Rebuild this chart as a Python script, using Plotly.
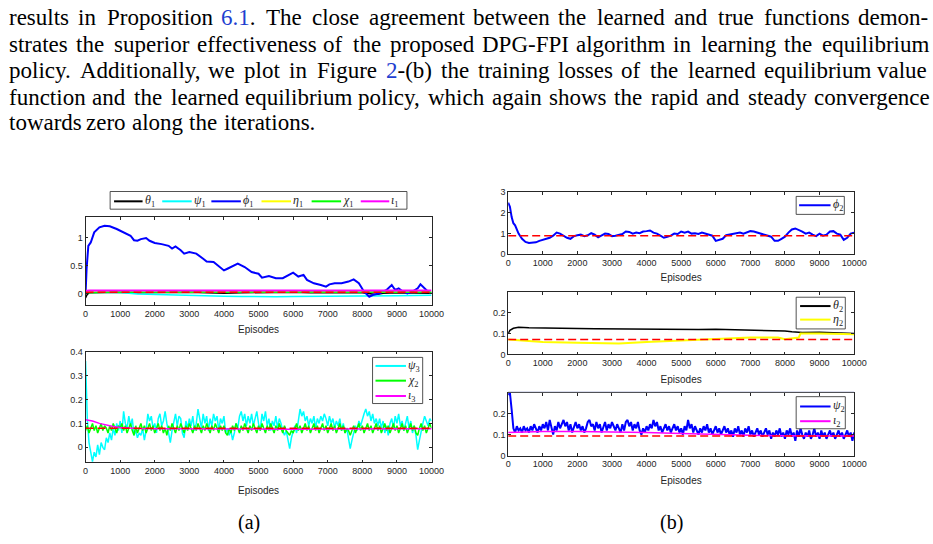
import numpy as np
import plotly.graph_objects as go

W_FIG, H_FIG = 933, 544

# ---------------- data ----------------
# (a) top panel
phi1_x = [0, 30, 80, 150, 250, 400, 550, 700, 900, 1000, 1100, 1200, 1300, 1400, 1500, 1600, 1750, 1850,
          2000, 2200, 2400, 2500, 2600, 2750, 2850, 3000, 3200, 3400, 3500, 3700, 3900, 4000, 4100, 4300,
          4400, 4600, 4800, 5000, 5100, 5300, 5500, 5700, 5900, 6000, 6150, 6300, 6400, 6600, 6800, 6950,
          7050, 7200, 7400, 7600, 7750, 7900, 8050, 8200, 8300, 8500, 8700, 8850, 8950, 9050, 9150, 9300,
          9450, 9600, 9680, 9800, 9900, 10000]
phi1_y = [0.0, 0.45, 0.86, 0.92, 1.10, 1.19, 1.22, 1.21, 1.16, 1.13, 1.10, 1.06, 1.04, 0.96, 0.95, 0.98, 1.00, 0.95,
          0.91, 0.89, 0.86, 0.81, 0.85, 0.78, 0.72, 0.75, 0.72, 0.63, 0.58, 0.57, 0.48, 0.42, 0.45, 0.52,
          0.54, 0.48, 0.39, 0.36, 0.29, 0.32, 0.28, 0.28, 0.35, 0.38, 0.31, 0.34, 0.25, 0.19, 0.16, 0.13,
          0.17, 0.19, 0.19, 0.22, 0.26, 0.19, 0.04, -0.05, -0.02, 0.01, 0.07, 0.16, 0.07, 0.10, 0.05, 0.01,
          0.04, 0.10, 0.17, 0.10, 0.04, 0.01]
theta1_x = [0, 40, 100, 300, 600, 1000, 1500, 2000, 2500, 3000, 3500, 4000, 4500, 5000, 5500, 6000, 6500,
            7000, 7500, 8000, 8200, 8400, 8600, 9000, 9500, 10000]
theta1_y = [-0.07, -0.02, 0.02, 0.025, 0.02, 0.03, 0.02, 0.025, 0.02, 0.03, 0.02, 0.01, 0.02, 0.025, 0.02, 0.03,
            0.02, 0.025, 0.02, 0.02, 0.0, -0.01, 0.01, 0.02, 0.015, 0.01]
grid500 = list(range(0, 10001, 500))
psi1_y = [0.03, 0.03, 0.025, 0.0, -0.01, -0.02, -0.025, -0.03, -0.04, -0.045, -0.05, -0.05, -0.045, -0.045,
          -0.045, -0.045, -0.04, -0.035, -0.035, -0.03, -0.025]
eta1_y = [0.03, 0.035, 0.04, 0.035, 0.03, 0.035, 0.04, 0.035, 0.03, 0.035, 0.03, 0.035, 0.04, 0.035, 0.03,
          0.035, 0.03, 0.03, 0.025, 0.03, 0.035]
chi1_y = [0.02, 0.03, 0.035, 0.03, 0.025, 0.03, 0.035, 0.03, 0.025, 0.03, 0.035, 0.03, 0.03, 0.035, 0.03,
          0.025, 0.03, 0.035, 0.03, 0.025, 0.03]
iota1_x = [0, 100, 10000]
iota1_y = [0.05, 0.062, 0.062]
true_a1 = 0.03

# (a) bottom panel, sampled every 50 episodes
psi3_y = [0.36, 0.12, 0.02, -0.03, -0.06, -0.02, -0.04, 0.01, -0.03, 0.02, 0.00, -0.01, 0.04, 0.02, 0.06, 0.03, 0.08, 0.05, 0.10, 0.07,
          0.11, 0.06, 0.15, 0.10, 0.08, 0.13, 0.09, 0.12, 0.05, 0.07, 0.04, 0.06, 0.05, 0.08, 0.03, 0.07, 0.14, 0.11, 0.13, 0.08,
          0.10, 0.06, 0.12, 0.14, 0.09, 0.11, 0.15, 0.10, 0.06, 0.02, 0.07, 0.10, 0.14, 0.09, 0.13, 0.12, 0.06, 0.04, 0.11, 0.08,
          0.12, 0.09, 0.13, 0.07, 0.10, 0.16, 0.12, 0.08, 0.14, 0.10, 0.13, 0.07, 0.12, 0.09, 0.14, 0.11, 0.13, 0.07, 0.12, 0.10,
          0.13, 0.06, 0.08, 0.05, 0.07, 0.03, 0.06, 0.10, 0.08, 0.13, 0.15, 0.11, 0.14, 0.09, 0.13, 0.10, 0.14, 0.09, 0.12, 0.15,
          0.10, 0.07, 0.14, 0.11, 0.15, 0.09, 0.12, 0.07, 0.11, 0.09, 0.13, 0.08, 0.12, 0.10, 0.07, 0.05, 0.07, 0.03, -0.005, 0.04,
          0.07, 0.09, 0.06, 0.11, 0.16, 0.13, 0.15, 0.11, 0.13, 0.09, 0.12, 0.10, 0.13, 0.08, 0.12, 0.10, 0.13, 0.11, 0.14, 0.12,
          0.09, 0.13, 0.10, 0.12, 0.08, 0.11, 0.09, 0.12, 0.07, 0.10, 0.06, 0.08, 0.04, -0.005, 0.03, 0.06, 0.09, 0.07, 0.11, 0.09,
          0.12, 0.14, 0.16, 0.13, 0.15, 0.11, 0.14, 0.10, 0.12, 0.09, 0.12, 0.08, 0.11, 0.06, 0.09, 0.05, 0.10, 0.12, 0.08, 0.13,
          0.10, 0.14, 0.09, 0.11, 0.07, 0.10, 0.13, 0.08, 0.11, 0.06, 0.09, 0.05, -0.01, 0.03, 0.07, 0.10, 0.13, 0.11, 0.09, 0.12,
          0.11]
chi2_y = [0.07, 0.09, 0.06, 0.08, 0.10, 0.07, 0.09, 0.06, 0.08, 0.10, 0.07, 0.09, 0.08, 0.06, 0.09, 0.07, 0.10, 0.08, 0.06, 0.09,
          0.08, 0.10, 0.07, 0.09, 0.06, 0.08, 0.10, 0.07, 0.05, 0.09, 0.06, 0.08, 0.10, 0.07, 0.09, 0.06, 0.08, 0.10, 0.07, 0.09,
          0.06, 0.08, 0.10, 0.07, 0.09, 0.06, 0.08, 0.05, 0.09, 0.07, 0.10, 0.08, 0.06, 0.09, 0.07, 0.10, 0.08, 0.06, 0.09, 0.07,
          0.10, 0.08, 0.06, 0.09, 0.07, 0.10, 0.08, 0.06, 0.09, 0.07, 0.10, 0.08, 0.06, 0.09, 0.07, 0.10, 0.08, 0.06, 0.09, 0.07,
          0.09, 0.06, 0.05, 0.08, 0.06, 0.09, 0.07, 0.10, 0.08, 0.06, 0.09, 0.07, 0.10, 0.08, 0.06, 0.09, 0.07, 0.10, 0.08, 0.06,
          0.09, 0.07, 0.10, 0.08, 0.06, 0.09, 0.07, 0.10, 0.08, 0.06, 0.09, 0.07, 0.10, 0.08, 0.06, 0.09, 0.07, 0.06, 0.05, 0.07,
          0.06, 0.08, 0.10, 0.07, 0.09, 0.06, 0.08, 0.10, 0.07, 0.09, 0.06, 0.08, 0.10, 0.07, 0.09, 0.06, 0.08, 0.10, 0.07, 0.09,
          0.06, 0.08, 0.10, 0.07, 0.09, 0.06, 0.08, 0.10, 0.07, 0.09, 0.06, 0.08, 0.07, 0.05, 0.07, 0.09, 0.06, 0.08, 0.10, 0.07,
          0.09, 0.06, 0.08, 0.10, 0.07, 0.09, 0.06, 0.08, 0.10, 0.07, 0.09, 0.06, 0.08, 0.10, 0.07, 0.09, 0.06, 0.08, 0.10, 0.07,
          0.09, 0.06, 0.08, 0.10, 0.07, 0.09, 0.06, 0.08, 0.10, 0.07, 0.09, 0.06, 0.05, 0.08, 0.10, 0.07, 0.09, 0.06, 0.08, 0.10,
          0.08]
iota3_x = [0, 200, 400, 600, 800, 1000, 1200, 1500, 2000, 3000, 4000, 5000, 6000, 7000, 8000, 9000, 10000]
iota3_y = [0.115, 0.11, 0.10, 0.092, 0.087, 0.083, 0.081, 0.079, 0.078, 0.077, 0.077, 0.077, 0.076, 0.077, 0.077, 0.077, 0.078]
true_a2 = 0.08

# (b) top panel
phi2_x = [0, 50, 100, 150, 200, 250, 300] + list(range(400, 10001, 100))
phi2_y = [2.5, 2.3, 1.8, 1.5, 1.4, 1.2, 1.0,
          0.75, 0.6, 0.55, 0.55, 0.58, 0.65, 0.7, 0.72, 0.8, 0.9, 1.05, 1.0, 0.9, 0.8, 0.75, 0.88,
          0.92, 0.95, 0.88, 0.92, 1.02, 0.95, 0.82, 0.9, 1.0, 0.98, 0.88, 0.9, 0.95, 0.98, 1.1, 1.08,
          1.0, 1.05, 1.02, 1.1, 1.12, 1.15, 1.05, 1.0, 0.9, 0.8, 0.85, 0.9, 1.0, 0.98, 1.1, 1.05,
          1.1, 1.0, 1.02, 0.98, 1.05, 1.0, 0.95, 0.9, 0.65, 0.7, 0.75, 0.92, 0.95, 0.97, 1.0, 1.05,
          1.0, 1.08, 1.12, 1.1, 1.05, 1.0, 0.95, 0.92, 0.85, 0.65, 0.65, 0.75, 0.85, 1.05, 1.2, 1.25,
          1.18, 1.1, 1.0, 1.05, 0.95, 0.88, 1.0, 0.9, 0.95, 1.1, 1.12, 1.0, 0.95, 0.7, 0.8, 1.0, 1.05]
true_b1 = 0.9

# (b) middle panel
theta2_x = [0, 50, 150, 300, 600, 1000, 1500, 2000, 2500, 3000, 3500, 4000, 4500, 5000, 5500, 6000, 6500,
            7000, 7500, 8000, 8200, 8500, 9000, 9500, 10000]
theta2_y = [0.10, 0.115, 0.125, 0.13, 0.128, 0.126, 0.124, 0.124, 0.123, 0.122, 0.12, 0.119, 0.12, 0.12, 0.119,
            0.12, 0.118, 0.115, 0.115, 0.112, 0.108, 0.105, 0.106, 0.104, 0.10]
eta2_x = [0, 500, 1000, 2000, 3200, 4000, 5000, 6000, 7000, 7800, 8000, 8400, 8450, 9000, 10000]
eta2_y = [0.072, 0.066, 0.06, 0.056, 0.052, 0.06, 0.068, 0.073, 0.081, 0.081, 0.073, 0.081, 0.1, 0.1, 0.097]
true_b2 = 0.071

# (b) bottom panel, sampled every 50 episodes
psi2_y = [0.29, 0.30, 0.22, 0.13, 0.11, 0.14, 0.12, 0.13, 0.11, 0.14, 0.12, 0.13, 0.11, 0.14, 0.12, 0.15, 0.13, 0.11, 0.14, 0.12,
          0.15, 0.13, 0.16, 0.12, 0.17, 0.13, 0.10, 0.14, 0.12, 0.16, 0.13, 0.15, 0.17, 0.14, 0.16, 0.12, 0.15, 0.11, 0.14, 0.16,
          0.13, 0.15, 0.12, 0.14, 0.11, 0.13, 0.16, 0.17, 0.14, 0.15, 0.12, 0.16, 0.13, 0.15, 0.11, 0.14, 0.16, 0.12, 0.15, 0.13,
          0.16, 0.14, 0.12, 0.15, 0.13, 0.11, 0.15, 0.12, 0.16, 0.17, 0.14, 0.16, 0.12, 0.15, 0.13, 0.16, 0.12, 0.10, 0.13, 0.11,
          0.14, 0.12, 0.15, 0.13, 0.17, 0.14, 0.16, 0.12, 0.14, 0.11, 0.13, 0.15, 0.12, 0.14, 0.11, 0.13, 0.15, 0.12, 0.14, 0.11,
          0.13, 0.10, 0.14, 0.12, 0.17, 0.13, 0.15, 0.11, 0.14, 0.12, 0.10, 0.13, 0.11, 0.14, 0.12, 0.15, 0.11, 0.13, 0.10, 0.12,
          0.14, 0.11, 0.13, 0.10, 0.12, 0.14, 0.11, 0.13, 0.10, 0.12, 0.09, 0.13, 0.11, 0.14, 0.10, 0.12, 0.09, 0.13, 0.11, 0.14,
          0.10, 0.12, 0.09, 0.11, 0.13, 0.10, 0.12, 0.09, 0.11, 0.13, 0.10, 0.12, 0.08, 0.11, 0.09, 0.12, 0.10, 0.13, 0.09, 0.11,
          0.08, 0.12, 0.10, 0.13, 0.09, 0.11, 0.07, 0.12, 0.09, 0.13, 0.10, 0.08, 0.11, 0.09, 0.12, 0.08, 0.10, 0.13, 0.09, 0.11,
          0.08, 0.12, 0.09, 0.11, 0.08, 0.10, 0.12, 0.09, 0.11, 0.08, 0.10, 0.12, 0.09, 0.11, 0.08, 0.10, 0.12, 0.09, 0.11, 0.07,
          0.11]
iota2_x = [0, 1000, 2000, 3000, 4000, 5000, 6000, 7000, 8000, 9000, 10000]
iota2_y = [0.11, 0.115, 0.115, 0.113, 0.11, 0.105, 0.1, 0.097, 0.095, 0.094, 0.093]
true_b3 = 0.093

x_ticks = list(range(0, 10001, 1000))

# paragraph text
PARA = [
    "results in Proposition 6.1. The close agreement between the learned and true functions demon-",
    "strates the superior effectiveness of the proposed DPG-FPI algorithm in learning the equilibrium",
    "policy. Additionally, we plot in Figure 2-(b) the training losses of the learned equilibrium value",
    "function and the learned equilibrium policy, which again shows the rapid and steady convergence",
    "towards zero along the iterations.",
]

# ---------------- helpers ----------------
AX = '#262626'
SANS = 'Liberation Sans, Arial, sans-serif'
SERIF = 'Liberation Serif, Times New Roman, serif'
TICKFONT = dict(family=SANS, size=9, color=AX)


def px(xp):
    return xp / W_FIG


def py(yp):
    return 1 - yp / H_FIG


def xaxis(dom, anchor, standoff=8):
    return dict(domain=dom, anchor=anchor, range=[0, 10000], tickvals=x_ticks,
                ticktext=[str(v) for v in x_ticks], ticks='inside', ticklen=3, tickwidth=0.8,
                tickcolor=AX, showline=True, linecolor=AX, linewidth=0.8, mirror='ticks',
                showgrid=False, zeroline=False, tickfont=TICKFONT,
                title=dict(text='Episodes', font=dict(family=SANS, size=10, color=AX), standoff=standoff))


def yaxis(top, bottom, anchor, rng, tv, tt):
    return dict(domain=[py(bottom), py(top)], anchor=anchor, range=rng, tickvals=tv, ticktext=tt,
                ticks='inside', ticklen=3, tickwidth=0.8, tickcolor=AX, showline=True, linecolor=AX,
                linewidth=0.8, mirror='ticks', showgrid=False, zeroline=False, tickfont=TICKFONT)


def grid(vals, end=10000):
    return list(np.linspace(0, end, len(vals)))


fig = go.Figure()


def line(x, y, color, name, xa, ya, width=1.5, dash=None):
    fig.add_trace(go.Scatter(x=x, y=y, mode='lines', name=name, xaxis=xa, yaxis=ya,
                             showlegend=False, line=dict(color=color, width=width, dash=dash),
                             hoverinfo='skip'))


DASH = '8px,4px'
RED = '#FF0000'
C_BLACK, C_CYAN, C_BLUE, C_YEL, C_GRN, C_MAG = '#000000', '#00FFFF', '#0000FF', '#FFFF00', '#00FF00', '#FF00FF'

# (a) top
line(theta1_x, theta1_y, C_BLACK, 'θ1', 'x', 'y')
line(grid500, psi1_y, C_CYAN, 'ψ1', 'x', 'y')
line(phi1_x, phi1_y, C_BLUE, 'ϕ1', 'x', 'y', width=2)
line(grid500, eta1_y, C_YEL, 'η1', 'x', 'y')
line(grid500, chi1_y, C_GRN, 'χ1', 'x', 'y')
line(iota1_x, iota1_y, C_MAG, 'ι1', 'x', 'y', width=2)
line([0, 10000], [true_a1, true_a1], RED, 'true', 'x', 'y', dash=DASH)

# (a) bottom
line(grid(psi3_y), psi3_y, C_CYAN, 'ψ3', 'x2', 'y2')
line(grid(chi2_y), chi2_y, C_GRN, 'χ2', 'x2', 'y2')
line(iota3_x, iota3_y, C_MAG, 'ι3', 'x2', 'y2')
line([0, 10000], [true_a2, true_a2], RED, 'true', 'x2', 'y2', dash=DASH)

# (b) top
line(phi2_x, phi2_y, C_BLUE, 'ϕ2', 'x3', 'y3', width=2)
line([0, 10000], [true_b1, true_b1], RED, 'true', 'x3', 'y3', dash=DASH)

# (b) middle
line(theta2_x, theta2_y, C_BLACK, 'θ2', 'x4', 'y4')
line(eta2_x, eta2_y, C_YEL, 'η2', 'x4', 'y4', width=2)
line([0, 10000], [true_b2, true_b2], RED, 'true', 'x4', 'y4', dash=DASH)

# (b) bottom
line(grid(psi2_y), psi2_y, C_BLUE, 'ψ2', 'x5', 'y5', width=2)
line(iota2_x, iota2_y, C_MAG, 'ι2', 'x5', 'y5')
line([0, 10000], [true_b3, true_b3], RED, 'true', 'x5', 'y5', dash=DASH)

XA = [px(84), px(436)]
XB = [px(514), px(866)]

fig.update_layout(
    width=W_FIG, height=H_FIG, margin=dict(l=0, r=0, t=0, b=0),
    paper_bgcolor='white', plot_bgcolor='white', showlegend=False,
    xaxis=xaxis(XA, 'y'), yaxis=yaxis(215.7, 305.7, 'x', [-0.2, 1.38], [0, 0.5, 1], ['0', '0.5', '1']),
    xaxis2=xaxis(XA, 'y2', 11), yaxis2=yaxis(353, 466, 'x2', [-0.063, 0.4],
                                             [0, 0.1, 0.2, 0.3, 0.4], ['0', '0.1', '0.2', '0.3', '0.4']),
    xaxis3=xaxis(XB, 'y3', 6), yaxis3=yaxis(190.7, 254, 'x3', [0, 3], [0, 1, 2, 3], ['0', '1', '2', '3']),
    xaxis4=xaxis(XB, 'y4'), yaxis4=yaxis(292, 356, 'x4', [0, 0.3], [0, 0.1, 0.2], ['0', '0.1', '0.2']),
    xaxis5=xaxis(XB, 'y5'), yaxis5=yaxis(395, 459, 'x5', [0, 0.3], [0, 0.1, 0.2], ['0', '0.1', '0.2']),
)

# faint frame line under the middle (b) panel
fig.add_shape(type='line', xref='paper', yref='paper', x0=px(514), x1=px(866),
              y0=py(394), y1=py(394), line=dict(color='#cdd1e6', width=1))


# ---------------- legends (MATLAB-style boxes) ----------------
def legend(box, items):
    x0, y0, x1, y1 = box
    fig.add_shape(type='rect', xref='paper', yref='paper', x0=px(x0), x1=px(x1), y0=py(y1), y1=py(y0),
                  fillcolor='white', line=dict(color=AX, width=0.8), layer='above')
    for color, width, lx0, lx1, yy, label in items:
        fig.add_shape(type='line', xref='paper', yref='paper', x0=px(lx0), x1=px(lx1), y0=py(yy), y1=py(yy),
                      line=dict(color=color, width=width), layer='above')
        fig.add_annotation(x=px(lx1 + 2), y=py(yy), xref='paper', yref='paper', xanchor='left',
                           yanchor='middle', text=label, showarrow=False, borderpad=0, borderwidth=0,
                           font=dict(family=SERIF, size=12, color=AX))


def lab(g, k):
    return f'<i>{g}</i><sub>{k}</sub>'


legend((109, 190, 411, 208), [
    (C_BLACK, 2, 113, 142, 200, lab('θ', 1)),
    (C_CYAN, 2, 162, 192, 200, lab('ψ', 1)),
    (C_BLUE, 2, 212, 242, 200, lab('ϕ', 1)),
    (C_YEL, 2, 263, 293, 200, lab('η', 1)),
    (C_GRN, 2, 314, 344, 200, lab('χ', 1)),
    (C_MAG, 2, 364, 393, 200, lab('ι', 1)),
])
legend((376, 359, 427, 406), [
    (C_CYAN, 2, 379, 410, 367.7, lab('ψ', 3)),
    (C_GRN, 2, 379, 410, 382.7, lab('χ', 2)),
    (C_MAG, 2, 379, 410, 398.3, lab('ι', 3)),
])
legend((807, 195, 856, 213.3), [
    (C_BLUE, 2, 810, 842, 204, lab('ϕ', 2)),
])
legend((807, 297.7, 857, 330), [
    (C_BLACK, 2, 811, 842, 306.7, lab('θ', 2)),
    (C_YEL, 2, 811, 842, 320.5, lab('η', 2)),
])
legend((807, 399, 857, 431.7), [
    (C_BLUE, 2, 811, 842, 409, lab('ψ', 2)),
    (C_MAG, 2, 811, 842, 424, lab('ι', 2)),
])

# ---------------- justified paragraph ----------------
TW = {'a': 444, 'b': 500, 'c': 444, 'd': 500, 'e': 444, 'f': 333, 'g': 500, 'h': 500, 'i': 278, 'j': 278,
      'k': 500, 'l': 278, 'm': 778, 'n': 500, 'o': 500, 'p': 500, 'q': 500, 'r': 333, 's': 389, 't': 278,
      'u': 500, 'v': 500, 'w': 722, 'x': 500, 'y': 500, 'z': 444,
      'A': 722, 'B': 667, 'C': 667, 'D': 722, 'E': 611, 'F': 556, 'G': 722, 'H': 722, 'I': 333, 'J': 389,
      'K': 722, 'L': 611, 'M': 889, 'N': 722, 'O': 722, 'P': 556, 'Q': 722, 'R': 667, 'S': 556, 'T': 611,
      'U': 722, 'V': 722, 'W': 944, 'X': 722, 'Y': 722, 'Z': 611,
      '.': 250, ',': 250, '-': 333, '(': 333, ')': 333}
FS = 23
SHRINK = 0.973
LINE_Y = [13, 40, 67, 94, 120]
X0, X1 = 6, 938
LINK = '#1f3fd0'


def text_w(s):
    return sum(TW.get(c, 500) for c in s) / 1000 * FS * SHRINK


def fmt(word):
    if word == '6.1.':
        return f"<span style='color:{LINK}'>6.1</span>."
    if word == '2-(b)':
        return f"<span style='color:{LINK}'>2</span>-(b)"
    return word


for i, ln in enumerate(PARA):
    words = ln.split(' ')
    widths = [text_w(w) for w in words]
    if i < len(PARA) - 1:
        gap = (X1 - X0 - sum(widths)) / (len(words) - 1)
    else:
        gap = 0.35 * FS
    xpos = X0
    for w, wd in zip(words, widths):
        fig.add_annotation(x=px(xpos), y=py(LINE_Y[i]), xref='paper', yref='paper',
                           xanchor='left', yanchor='middle', text=fmt(w), showarrow=False,
                           borderpad=0, borderwidth=0, font=dict(family=SERIF, size=FS, color='black'))
        xpos += wd + gap

for txt, cx in [('(a)', 250), ('(b)', 680)]:
    fig.add_annotation(x=px(cx), y=py(527), xref='paper', yref='paper', xanchor='center',
                       yanchor='middle', text=txt, showarrow=False,
                       font=dict(family=SERIF, size=20, color='black'))

fig.write_html("out.html")
